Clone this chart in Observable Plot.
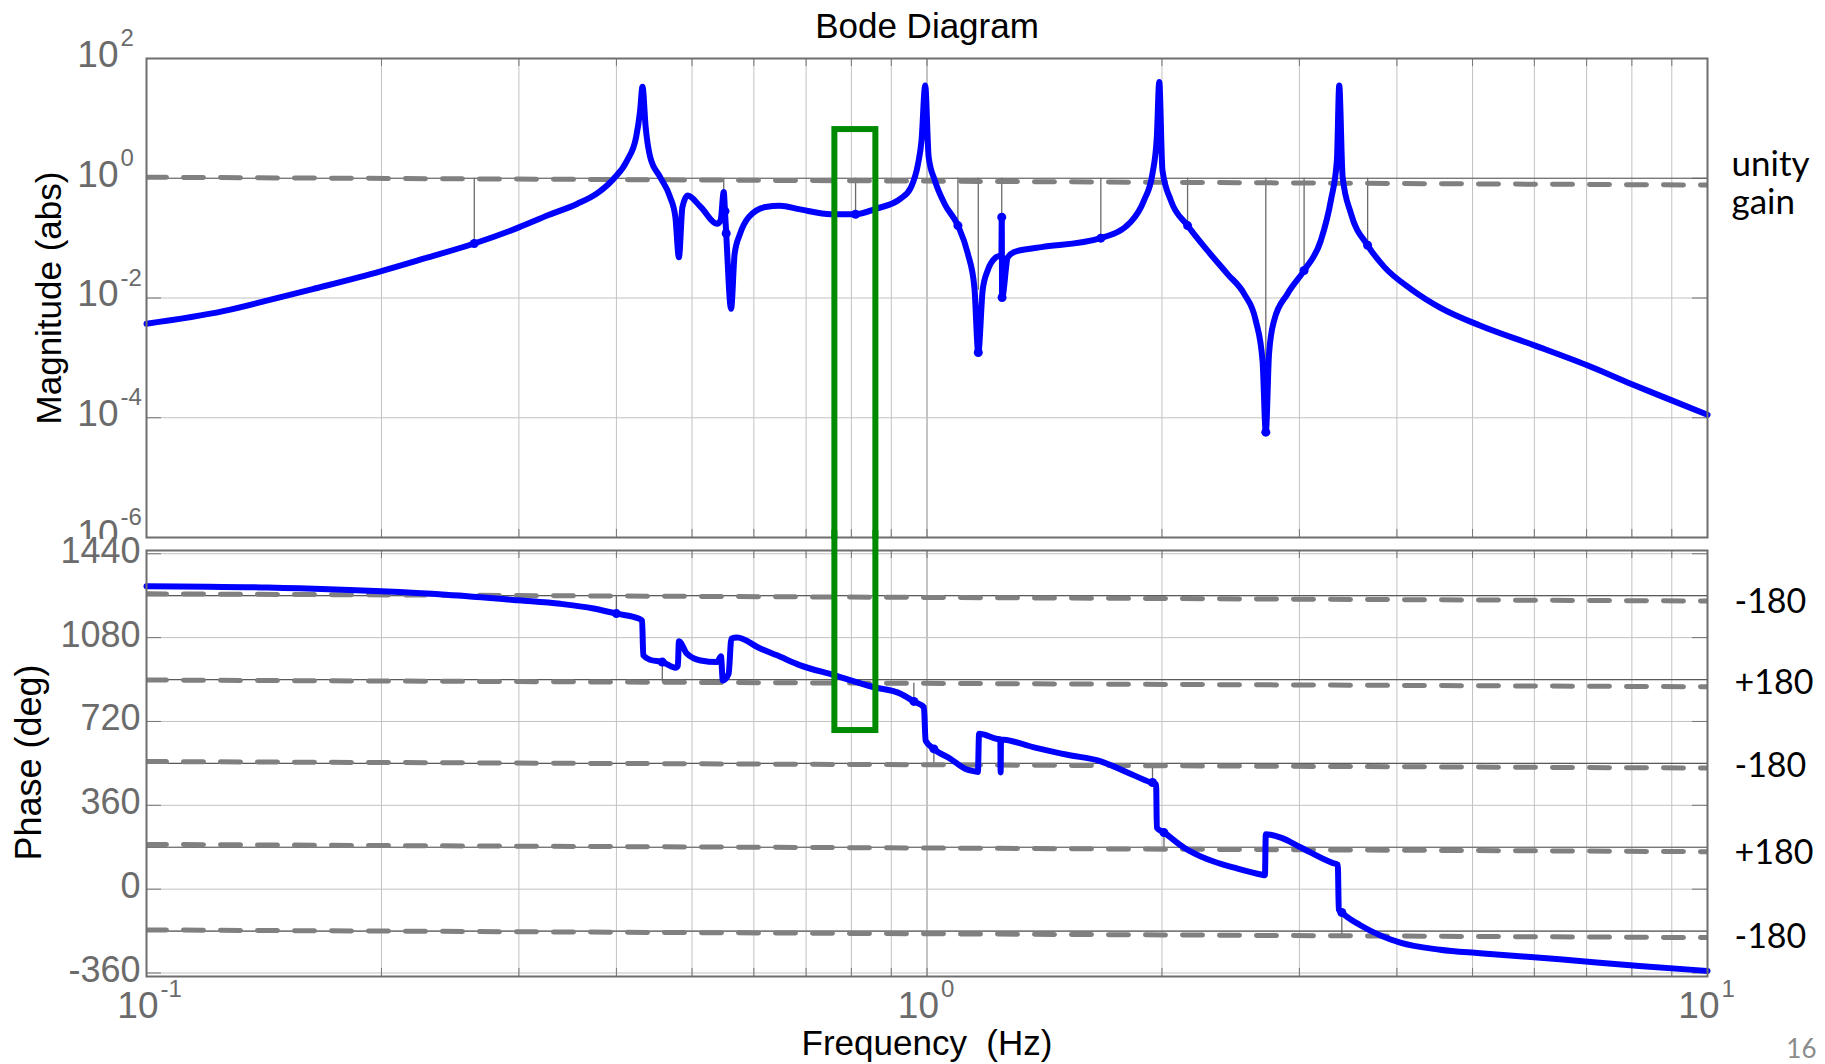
<!DOCTYPE html>
<html>
<head>
<meta charset="utf-8">
<script src="https://cdn.jsdelivr.net/npm/d3@7"></script>
<script src="https://cdn.jsdelivr.net/npm/@observablehq/plot@0.6"></script>
<style>
html, body { margin: 0; padding: 0; background: #fff; }
#wrap { position: relative; width: 1825px; height: 1064px; overflow: hidden; background: #fff; }
#top, #bot { position: absolute; left: 0; width: 1825px; }
#top { top: 0; }
#bot { top: 530px; }
</style>
</head>
<body>
<div id="wrap"><div id="top"></div><div id="bot"></div></div>
<script>
// ---------------- data ----------------
// magnitude curve (Hz, abs)
const magFreq = [0.100,0.1254,0.143,0.1633,0.200,0.227,0.263,0.300,0.328,0.356,0.379,0.396,0.413,0.424,0.429,0.432,0.436,0.442,0.455,0.4685,0.476,0.481,0.486,0.4935,0.513,0.5385,0.544,0.549,0.551,0.553,0.561,0.567,0.576,0.591,0.621,0.648,0.688,0.753,0.810,0.860,0.925,0.954,0.974,0.984,0.9947,1.005,1.0235,1.0535,1.0955,1.128,1.150,1.1633,1.1785,1.196,1.2256,1.2455,1.2467,1.2480,1.2692,1.2946,1.3475,1.4022,1.670,1.824,1.897,1.945,1.970,1.984,2.003,2.053,2.157,2.288,2.427,2.549,2.638,2.691,2.717,2.743,2.784,2.896,3.042,3.196,3.292,3.351,3.374,3.408,3.493,3.669,3.853,4.169,4.543,5.11,6.0,7.0,8.0,9.0,10.0];
const magValue = [0.00372,0.00603,0.00912,0.0141,0.0282,0.0457,0.0813,0.151,0.245,0.372,0.575,0.955,2.0,4.9,13.5,33.9,7.24,2.24,1.05,0.49,0.224,0.0479,0.331,0.513,0.331,0.174,0.2,0.589,0.282,0.12,0.0066,0.055,0.1175,0.224,0.331,0.347,0.302,0.251,0.251,0.309,0.457,0.708,1.74,4.27,35.5,2.24,0.912,0.372,0.162,0.055,0.0151,0.00123,0.0135,0.0288,0.0479,0.0525,0.224,0.0102,0.0479,0.0589,0.066,0.0708,0.1,0.186,0.427,1.2,4.9,40.7,1.35,0.427,0.162,0.0617,0.0251,0.0117,0.00417,0.000891,0.0000575,0.00117,0.00417,0.0117,0.0288,0.0912,0.427,2.0,35.5,1.05,0.257,0.0759,0.0331,0.0141,0.00692,0.00347,0.00162,0.000759,0.000363,0.000195,0.000112];

// phase curve (Hz, deg)
const phaseFreq = [0.100,0.143,0.200,0.242,0.300,0.339,0.374,0.400,0.4272,0.4315,0.4330,0.4416,0.458,0.4765,0.4795,0.481,0.4925,0.5126,0.5385,0.5445,0.5475,0.557,0.5615,0.571,0.6116,0.6425,0.6883,0.758,0.853,0.925,0.9621,0.9909,0.9959,1.0205,1.0722,1.1207,1.1543,1.162,1.166,1.2305,1.2415,1.2427,1.2440,1.3709,1.5131,1.6697,1.8064,1.9353,1.966,1.970,2.0124,2.1355,2.2878,2.475,2.6772,2.710,2.717,2.841,3.009,3.306,3.360,3.370,3.425,3.591,4.039,4.543,5.11,6.466,8.18,10.0];
const phaseValue = [1301,1295,1279,1264,1240,1225,1205,1183,1162,1152,1004,985,975,951,960,1064,1011,982,975,1000,896,925,1076,1080,1033,1004,961,920,868,839,806,781,638,602,559,516,505,503,667,645,643,501,643,609,577,549,501,458,450,264,243,178,128,92,63,60,236,221,180,113,105,-88,-110,-155,-230,-260,-275,-301,-330,-351];

// thin marker stems and dots
const magStemFreq = [0.263,0.549,0.810,1.0955,1.1633,1.2467,1.670,2.157,2.717,3.042,3.669];
const magStemEnd  = [0.0813,0.589,0.251,0.162,0.0135,0.224,0.1,0.162,0.000891,0.0288,0.0759];
const magDotFreq  = [0.263,0.551,0.553,0.810,1.0955,1.1633,1.2467,1.2480,1.670,2.157,2.717,3.042,3.669];
const magDotValue = [0.0813,0.282,0.12,0.251,0.162,0.00123,0.224,0.0102,0.1,0.162,0.0000575,0.0288,0.0759];
const phaseStemFreq = [0.400,0.458,0.962,1.0205,1.945,2.012,3.40];
const phaseStemFrom = [1259,888,884,534,530,172,-200];
const phaseStemTo   = [1183,975,806,602,458,243,-100];

// hand-drawn dashed reference lines (values at 0.1 Hz and 10 Hz)
const dashFreqEnds = [0.1, 10];
const unityDashEnds = [1.04, 0.77];
const phaseDashLeft  = [1268, 898, 548, 192, -175];
const phaseDashRight = [1237, 869, 520, 161, -208];
const unityRef = [1];
const phaseRefs = [1260, 900, 540, 180, -180];

// right-hand annotations
const unityLabel = "unity\ngain";
const unityLabelMag = [0.83];
const rightLabels = ["-180", "+180", "-180", "+180", "-180"];
const rightLabelPhase = [1232, 883, 527, 156, -204];

// green highlight box
const highlightFreq = [0.762, 0.86];
const highlightMagTop = 6.5;
const highlightPhaseBottom = 681;

// axes: grids, ticks, labels
const xGridMinor = [0.2,0.3,0.4,0.5,0.6,0.7,0.8,0.9,2,3,4,5,6,7,8,9];
const xGridMajor = [1];
const xTickPos = [0.1,0.2,0.3,0.4,0.5,0.6,0.7,0.8,0.9,1,2,3,4,5,6,7,8,9,10];
const freqTickExp = [-1, 0, 1];
const magTickExp = [2, 0, -2, -4, -6];
const magGrid = [1e2, 1, 1e-2, 1e-4, 1e-6];
const phaseTicks = [1440, 1080, 720, 360, 0, -360];
const phaseGrid = [1440, 1260, 1080, 900, 720, 540, 360, 180, 0, -180, -360];

const magDomain = [1e-6, 1e2];
const phaseDomain = [-375, 1454];
const freqDomain = [0.1, 10];

// ---------------- tables ----------------
const magData = magFreq.map((f, i) => ({f, m: magValue[i]}));
const phaseData = phaseFreq.map((f, i) => ({f, p: phaseValue[i]}));
const magStems = magStemFreq.map((f, i) => ({f, y1: unityRef[0], y2: magStemEnd[i]}));
const magDots = magDotFreq.map((f, i) => ({f, m: magDotValue[i]}));
const phaseStems = phaseStemFreq.map((f, i) => ({f, y1: phaseStemFrom[i], y2: phaseStemTo[i]}));
const phaseDots = phaseStemFreq.map((f, i) => ({f, p: phaseStemTo[i]}));
const unityDash = dashFreqEnds.map((f, i) => ({f, m: unityDashEnds[i]}));
const phaseDash = phaseDashLeft.flatMap((v, k) => [
  {k, f: dashFreqEnds[0], p: v},
  {k, f: dashFreqEnds[1], p: phaseDashRight[k]}
]);
const boxTop = [{f1: highlightFreq[0], f2: highlightFreq[1], y1: highlightMagTop, y2: 1e-12}];
const boxBot = [{f1: highlightFreq[0], f2: highlightFreq[1], y1: 1e5, y2: highlightPhaseBottom}];

// ---------------- layout / style ----------------
const W = 1825, mL = 146, mR = 118;
const topH = 539, topMT = 58, topMB = 2;
const botH = 534, botMT = 20, botMB = 88;
const plotW = W - mL - mR;
const topPH = topH - topMT - topMB;
const botPH = botH - botMT - botMB;
const FONT = "'Liberation Sans', Arial, Helvetica, sans-serif";
const NUM = "'Liberation Sans Narrow', 'Arial Narrow', 'Liberation Sans', Arial, sans-serif";
const CAL = "Lato, 'Open Sans', sans-serif";
const TICKC = "#6b6b6b";
const GRIDC = "#c2c2c2";
const BLUE = "#0000ff";
const DASHC = "#808080";
const GREEN = "#008a00";

function gridMarks(yGrid, yTickVals, ph) {
  return [
    Plot.ruleX(xGridMinor, {stroke: GRIDC, strokeWidth: 1}),
    Plot.ruleX(xGridMajor, {stroke: "#8a8a8a", strokeWidth: 1}),
    Plot.ruleY(yGrid, {stroke: GRIDC, strokeWidth: 1}),
    Plot.ruleX(xTickPos, {stroke: "#777", strokeWidth: 1, insetBottom: ph - 8}),
    Plot.ruleX(xTickPos, {stroke: "#777", strokeWidth: 1, insetTop: ph - 8}),
    Plot.ruleY(yTickVals, {stroke: "#777", strokeWidth: 1, insetRight: plotW - 15}),
    Plot.ruleY(yTickVals, {stroke: "#777", strokeWidth: 1, insetLeft: plotW - 15})
  ];
}

const topPlot = Plot.plot({
  width: W, height: topH,
  marginTop: topMT, marginBottom: topMB, marginLeft: mL, marginRight: mR,
  x: {type: "log", domain: freqDomain, axis: null},
  y: {type: "log", domain: magDomain, axis: null},
  style: {background: "white", overflow: "hidden", fontFamily: FONT},
  marks: [
    ...gridMarks(magGrid, magGrid, topPH),
    Plot.ruleY(unityRef, {stroke: "#5a5a5a", strokeWidth: 1.2}),
    Plot.ruleX(magStems, {x: "f", y1: "y1", y2: "y2", stroke: "#6a6a6a", strokeWidth: 1.3}),
    Plot.line(unityDash, {x: "f", y: "m", stroke: DASHC, strokeWidth: 5, strokeDasharray: "20,17", clip: true}),
    Plot.line(magData, {x: "f", y: "m", stroke: BLUE, strokeWidth: 6, curve: "monotone-x", strokeLinejoin: "round", strokeLinecap: "round"}),
    Plot.dot(magDots, {x: "f", y: "m", r: 4.5, fill: BLUE}),
    Plot.frame({stroke: "#6e6e6e", strokeWidth: 2}),
    Plot.rect(boxTop, {x1: "f1", x2: "f2", y1: "y1", y2: "y2", stroke: GREEN, strokeWidth: 6, fill: "none"}),
    // tick labels 10^n
    Plot.text(magTickExp, {y: d => Math.pow(10, d), text: () => "10", frameAnchor: "left", textAnchor: "end", lineAnchor: "middle", dx: -28, dy: -3.5, fontSize: 37, fill: TICKC, fontFamily: NUM}),
    Plot.text(magTickExp, {y: d => Math.pow(10, d), text: d => String(d), frameAnchor: "left", textAnchor: "start", lineAnchor: "middle", dx: -26, dy: -20, fontSize: 24, fill: TICKC, fontFamily: NUM}),
    // titles
    Plot.text(["Bode Diagram"], {frameAnchor: "top", textAnchor: "middle", lineAnchor: "middle", dy: -32, fontSize: 35, fill: "black", fontFamily: FONT}),
    Plot.text(["Magnitude (abs)"], {frameAnchor: "left", textAnchor: "middle", lineAnchor: "middle", rotate: -90, dx: -97, fontSize: 35, fill: "black", fontFamily: FONT}),
    Plot.text([unityLabel], {y: unityLabelMag, frameAnchor: "right", textAnchor: "start", lineAnchor: "middle", dx: 24, fontSize: 35, lineHeight: 1.07, fill: "black", fontFamily: CAL})
  ]
});

const botPlot = Plot.plot({
  width: W, height: botH,
  marginTop: botMT, marginBottom: botMB, marginLeft: mL, marginRight: mR,
  x: {type: "log", domain: freqDomain, axis: null},
  y: {domain: phaseDomain, axis: null},
  style: {background: "transparent", overflow: "hidden", fontFamily: FONT},
  marks: [
    ...gridMarks(phaseGrid, phaseTicks, botPH),
    Plot.ruleY(phaseRefs, {stroke: "#5a5a5a", strokeWidth: 1.2}),
    Plot.ruleX(phaseStems, {x: "f", y1: "y1", y2: "y2", stroke: "#6a6a6a", strokeWidth: 1.3}),
    Plot.line(phaseDash, {x: "f", y: "p", z: "k", stroke: DASHC, strokeWidth: 5, strokeDasharray: "20,17", clip: true}),
    Plot.line(phaseData, {x: "f", y: "p", stroke: BLUE, strokeWidth: 6, curve: "monotone-x", strokeLinejoin: "round", strokeLinecap: "round"}),
    Plot.dot(phaseDots, {x: "f", y: "p", r: 4.5, fill: BLUE}),
    Plot.frame({stroke: "#6e6e6e", strokeWidth: 2}),
    Plot.rect(boxBot, {x1: "f1", x2: "f2", y1: "y1", y2: "y2", stroke: GREEN, strokeWidth: 6, fill: "none"}),
    // phase tick labels
    Plot.text(phaseTicks, {y: d => d, text: d => String(d), frameAnchor: "left", textAnchor: "end", lineAnchor: "middle", dx: -6, dy: -2.5, fontSize: 36, fill: TICKC, fontFamily: NUM}),
    // frequency tick labels 10^n
    Plot.text(freqTickExp, {x: d => Math.pow(10, d), text: () => "10", frameAnchor: "bottom", textAnchor: "end", lineAnchor: "middle", dx: 12, dy: 30, fontSize: 37, fill: TICKC, fontFamily: NUM}),
    Plot.text(freqTickExp, {x: d => Math.pow(10, d), text: d => String(d), frameAnchor: "bottom", textAnchor: "start", lineAnchor: "middle", dx: 14, dy: 13, fontSize: 24, fill: TICKC, fontFamily: NUM}),
    // titles
    Plot.text(["Phase (deg)"], {frameAnchor: "left", textAnchor: "middle", lineAnchor: "middle", rotate: -90, dx: -117, dy: -1, fontSize: 36, fill: "black", fontFamily: FONT}),
    Plot.text(["Frequency\u00a0 (Hz)"], {frameAnchor: "bottom", textAnchor: "middle", lineAnchor: "middle", dy: 67, fontSize: 35, fill: "black", fontFamily: FONT}),
    Plot.text(rightLabels, {y: rightLabelPhase, text: d => d, frameAnchor: "right", textAnchor: "start", lineAnchor: "middle", dx: 27, fontSize: 34, fill: "black", fontFamily: CAL}),
    Plot.text(["16"], {frameAnchor: "bottom-right", textAnchor: "end", lineAnchor: "middle", dx: 109, dy: 73, fontSize: 26, fill: "#8c8c8c", fontFamily: CAL})
  ]
});

document.getElementById("top").appendChild(topPlot);
document.getElementById("bot").appendChild(botPlot);
</script>
</body>
</html>
